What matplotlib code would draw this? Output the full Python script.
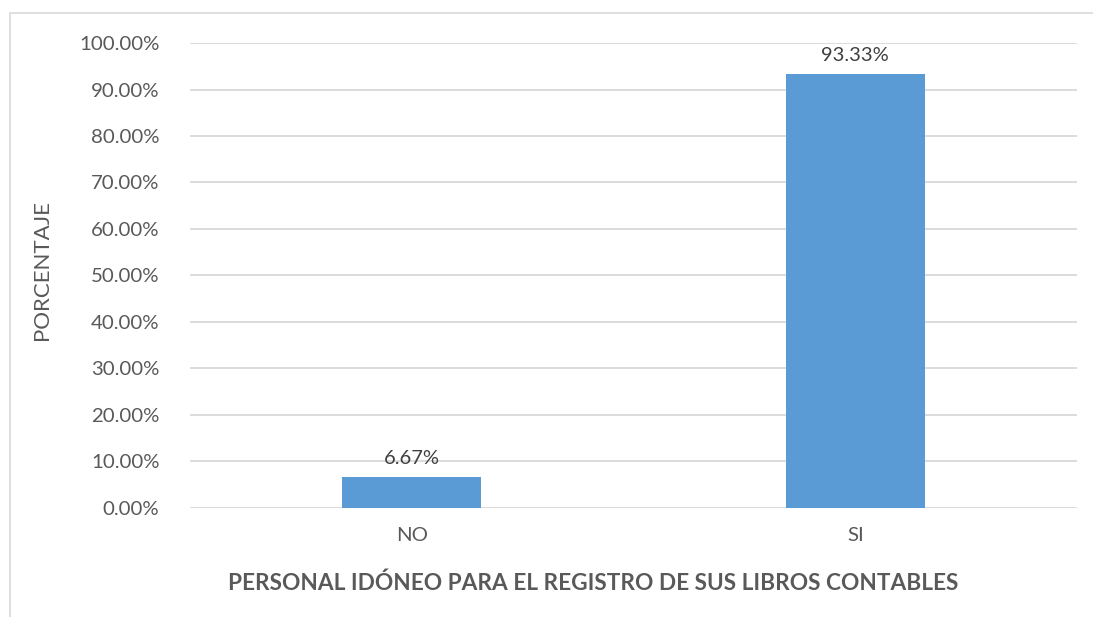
import matplotlib
matplotlib.use("Agg")
import matplotlib.pyplot as plt
from matplotlib.ticker import FuncFormatter
from matplotlib.patches import Rectangle

categories = ["NO", "SI"]
values = [6.67, 93.33]
yticks = [0, 10, 20, 30, 40, 50, 60, 70, 80, 90, 100]

plt.rcParams['font.family'] = ['Lato', 'DejaVu Sans']
txt = "#595959"
fig = plt.figure(figsize=(10.93, 6.17), dpi=100)
ax = fig.add_axes([0.1738, 0.1767, 0.8116, 0.7536])

x = list(range(len(categories)))
ax.bar(x, values, width=0.313, color="#5B9BD5", zorder=3)
for xi, v in zip(x, values):
    ax.annotate(f"{v:.2f}%", (xi, v), xytext=(0, 7), textcoords="offset points",
                ha="center", va="bottom", fontsize=14.5, color="#404040")

ax.set_xlim(-0.5, 1.5)
ax.set_ylim(0, 100)
ax.set_yticks(yticks)
ax.yaxis.set_major_formatter(FuncFormatter(lambda v, p: f"{v:.2f}%"))
ax.set_xticks(x)
ax.set_xticklabels(categories)
ax.grid(axis="y", color="#D9D9D9", linewidth=1.3, zorder=0)
for s in ax.spines.values():
    s.set_visible(False)
ax.tick_params(axis="both", length=0, labelsize=14.7, colors=txt)
ax.tick_params(axis="y", pad=22)
ax.tick_params(axis="x", pad=14)
ax.set_ylabel("PORCENTAJE", fontsize=16, color=txt)
ax.set_xlabel("PERSONAL IDÓNEO PARA EL REGISTRO DE SUS LIBROS CONTABLES",
              fontsize=16.3, fontweight="bold", color=txt)
ax.yaxis.set_label_coords(-0.1556, 0.512)
ax.xaxis.set_label_coords(0.4543, -0.139)

fig.patches.append(Rectangle((10/1093, -0.1), 1.2, (617-13)/617 + 0.1,
                             transform=fig.transFigure, fill=False,
                             edgecolor="#D9D9D9", linewidth=1.2))
fig.savefig("out.png", dpi=100)
